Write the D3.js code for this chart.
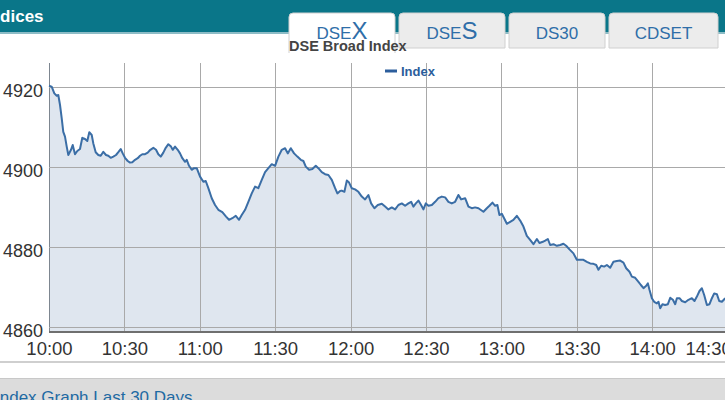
<!DOCTYPE html>
<html><head><meta charset="utf-8">
<script src="https://cdn.jsdelivr.net/npm/d3@7/dist/d3.min.js"></script>
<style>
html,body{margin:0;padding:0;background:#fff;overflow:hidden}
svg{display:block;font-family:"Liberation Sans",Arial,sans-serif}
</style></head>
<body><svg id="c" width="725" height="400"></svg>
<script>
const times = ["10:00:00","10:01:04","10:02:07","10:03:04","10:03:42","10:04:23","10:05:03","10:05:41","10:06:22","10:07:03",
"10:07:41","10:08:45","10:09:26","10:10:21","10:11:16","10:12:20","10:13:15","10:14:20","10:15:14","10:16:02",
"10:17:00","10:17:38","10:18:35","10:19:37","10:20:35","10:21:37","10:22:41","10:23:36","10:24:33","10:25:35",
"10:26:40","10:27:35","10:28:32","10:29:20","10:30:15","10:31:19","10:32:14","10:33:09","10:34:14","10:35:18",
"10:36:13","10:37:08","10:38:13","10:39:17","10:40:19","10:41:31","10:42:35","10:43:30","10:44:28","10:45:29",
"10:46:27","10:47:29","10:48:33","10:49:14","10:50:09","10:51:13","10:52:08","10:53:03","10:54:08","10:54:48",
"10:55:43","10:56:47","10:57:43","10:58:47","11:00:06","11:01:25","11:02:22","11:03:24","11:04:45","11:06:04",
"11:07:23","11:08:58","11:10:27","11:11:38","11:12:57","11:14:19","11:15:37","11:16:41","11:18:01","11:19:19",
"11:20:40","11:21:59","11:23:18","11:24:39","11:25:58","11:27:17","11:28:38","11:29:57","11:31:16","11:32:37",
"11:33:56","11:35:00","11:36:12","11:37:31","11:38:49","11:40:11","11:41:13","11:42:10","11:43:29","11:44:47",
"11:46:09","11:47:11","11:48:32","11:49:51","11:51:10","11:52:31","11:53:50","11:54:44","11:55:49","11:56:29",
"11:57:32","11:58:29","11:59:24","12:00:28","12:01:47","12:03:06","12:04:27","12:05:46","12:07:05","12:08:10",
"12:09:28","12:10:49","12:12:25","12:13:44","12:15:02","12:16:23","12:17:43","12:19:01","12:20:22","12:21:41",
"12:23:00","12:24:05","12:24:59","12:25:57","12:26:59","12:28:03","12:28:58","12:29:56","12:30:58","12:32:19",
"12:33:38","12:34:56","12:36:17","12:37:37","12:38:55","12:40:16","12:41:35","12:42:54","12:43:59","12:45:34",
"12:46:53","12:48:14","12:49:33","12:50:52","12:52:51","12:54:12","12:55:14","12:56:26","12:57:31","12:58:25",
"12:59:13","13:00:10","13:01:05","13:02:10","13:03:29","13:04:47","13:06:08","13:07:28","13:08:46","13:10:07",
"13:11:26","13:12:45","13:14:07","13:15:08","13:16:29","13:17:25","13:18:29","13:19:24","13:20:43","13:22:04",
"13:23:23","13:24:41","13:25:46","13:27:05","13:28:40","13:30:01","13:31:20","13:32:39","13:34:00","13:35:19",
"13:36:38","13:37:43","13:38:37","13:39:42","13:40:53","13:41:58","13:43:17","13:44:35","13:45:56","13:47:16",
"13:48:34","13:49:39","13:50:58","13:51:55","13:53:14","13:54:32","13:55:30","13:56:32","13:57:37","13:58:17",
"13:58:55","13:59:52","14:00:47","14:01:52","14:02:30","14:03:11","14:04:05","14:05:10","14:06:14","14:07:10",
"14:08:14","14:09:09","14:09:49","14:10:52","14:11:49","14:13:08","14:14:26","14:15:47","14:16:50","14:17:47",
"14:18:49","14:19:46","14:20:41","14:21:46","14:22:48","14:23:45","14:24:40","14:25:44","14:26:40","14:27:44",
"14:29:03"];
const values = [4920.3,4920.1,4918.4,4917.8,4918.0,4915.5,4912.2,4908.8,4907.6,4905.1,
4903.0,4904.3,4905.5,4903.2,4904.0,4904.5,4907.3,4907.0,4906.5,4908.7,
4908.0,4905.9,4903.7,4903.0,4902.8,4903.8,4903.0,4902.8,4902.3,4902.6,
4903.0,4903.7,4904.5,4903.4,4902.3,4901.5,4901.1,4901.2,4901.8,4902.2,
4902.8,4903.2,4903.2,4903.6,4904.3,4904.8,4904.3,4903.2,4902.6,4903.6,
4904.8,4905.7,4905.1,4904.3,4905.1,4904.3,4903.4,4902.2,4901.3,4901.8,
4900.3,4899.3,4899.7,4899.7,4897.6,4896.3,4896.5,4894.7,4892.2,4890.5,
4889.3,4888.7,4887.6,4886.8,4887.2,4887.8,4886.8,4888.0,4889.3,4891.3,
4893.4,4895.1,4894.7,4896.8,4898.7,4899.7,4900.7,4900.3,4902.6,4904.3,
4904.7,4903.4,4904.7,4903.4,4902.6,4901.8,4901.5,4900.1,4899.3,4899.5,
4900.3,4899.7,4898.7,4898.2,4898.0,4896.8,4894.7,4893.4,4894.0,4894.1,
4893.8,4896.6,4896.1,4894.7,4894.4,4893.8,4892.6,4891.9,4893.0,4890.9,
4889.7,4890.5,4890.8,4890.1,4889.4,4889.9,4889.4,4890.5,4890.9,4890.3,
4890.9,4891.3,4890.1,4890.9,4891.6,4890.5,4889.4,4890.9,4890.3,4890.5,
4891.3,4892.2,4892.6,4892.4,4891.3,4890.9,4891.3,4893.0,4891.9,4892.2,
4890.1,4889.7,4889.9,4889.7,4888.8,4889.7,4890.3,4891.1,4890.3,4890.5,
4888.0,4888.3,4887.2,4885.8,4886.3,4886.8,4887.8,4886.6,4885.1,4882.8,
4881.8,4880.7,4882.0,4881.0,4881.3,4881.6,4882.0,4880.5,4880.7,4880.3,
4880.5,4880.8,4880.3,4879.4,4878.4,4876.8,4876.8,4876.8,4876.3,4875.9,
4875.8,4875.5,4874.3,4875.3,4875.1,4875.5,4874.8,4876.3,4876.5,4876.6,
4876.1,4874.7,4873.8,4872.6,4872.3,4871.3,4870.5,4869.7,4870.3,4870.9,
4869.3,4867.2,4866.3,4865.9,4866.3,4864.7,4865.7,4865.5,4865.7,4867.3,
4866.8,4865.7,4867.2,4867.2,4866.5,4866.2,4866.8,4867.2,4866.5,4867.6,
4869.0,4869.7,4868.0,4865.5,4865.7,4867.2,4868.4,4868.2,4866.5,4866.3,
4867.2];
const yTicks = [4860, 4880, 4900, 4920];
const xTickLabels = ["10:00","10:30","11:00","11:30","12:00","12:30","13:00","13:30","14:00","14:30"];
const tabs = [["DSE","X"],["DSE","S"],["DS30",""],["CDSET",""]];
const seriesName = "Index";
const chartTitle = "DSE Broad Index";
const headerText = "Indices";
const footerText = "Index Graph Last 30 Days";

const svg = d3.select("#c");
const W = 725;
const parse = d3.timeParse("%H:%M:%S");
const parseHM = d3.timeParse("%H:%M");
const data = times.map((t,i)=>({t:parse(t), v:values[i]}));

// header bar
svg.append("rect").attr("x",0).attr("y",0).attr("width",W).attr("height",32).attr("fill","#0a7689");
svg.append("rect").attr("x",0).attr("y",32).attr("width",W).attr("height",2).attr("fill","#8dbcc6");
svg.append("text").attr("x",-15).attr("y",22).attr("fill","#fff").attr("font-size",17).attr("font-weight","bold").text(headerText);

// tabs
const tabX = [289,399,509,609], tabW = [106,106,96,109];
tabs.forEach((tb,i)=>{
  const active = i===0;
  const x=tabX[i], w=tabW[i], y=13, h= active?40:35, r=4;
  svg.append("path").attr("d",`M${x},${y+h} L${x},${y+r} Q${x},${y} ${x+r},${y} L${x+w-r},${y} Q${x+w},${y} ${x+w},${y+r} L${x+w},${y+h}`+(active?"":" Z"))
    .attr("fill", active?"#fff":"#ececec").attr("stroke","#d0d0d0").attr("stroke-width",1);
  const t = svg.append("text").attr("x",x+w/2).attr("y",39).attr("text-anchor","middle").attr("fill","#2f6ea8");
  t.append("tspan").attr("font-size",17).text(tb[0]);
  if(tb[1]) t.append("tspan").attr("font-size",24).text(tb[1]);
});
svg.append("text").attr("x",289).attr("y",51).attr("fill","#444").attr("font-size",14.5).attr("font-weight","bold").text(chartTitle);

// scales
const x = d3.scaleTime().domain([parseHM("10:00"), parseHM("14:30")]).range([49, 727.6]);
const y = d3.scaleLinear().domain([4858.75, 4926]).range([332, 63]);

// area
const area = d3.area().x(d=>x(d.t)).y0(y(4858.75)).y1(d=>y(d.v));
svg.append("path").datum(data).attr("d",area).attr("fill","#dfe6ef");

// grid
const xTicks = xTickLabels.map(s=>parseHM(s));
svg.append("g").selectAll("line").data(xTicks).join("line")
  .attr("x1",d=>Math.round(x(d))+0.5).attr("x2",d=>Math.round(x(d))+0.5).attr("y1",63).attr("y2",332)
  .attr("stroke",(d,i)=>i===0?"#7d8690":"#a9a9a9").attr("stroke-width",1);
svg.append("g").selectAll("line").data(yTicks).join("line")
  .attr("x1",49).attr("x2",W).attr("y1",d=>Math.round(y(d))+0.5).attr("y2",d=>Math.round(y(d))+0.5)
  .attr("stroke","#a9a9a9").attr("stroke-width",1);

// line
const line = d3.line().x(d=>x(d.t)).y(d=>y(d.v));
svg.append("path").datum(data).attr("d",line).attr("fill","none").attr("stroke","#3b6ea6").attr("stroke-width",2).attr("stroke-linejoin","round");

// x axis
const xAxis = svg.append("g").attr("transform","translate(0,332)")
  .call(d3.axisBottom(x).tickValues(xTicks).tickFormat(d3.timeFormat("%H:%M")).tickSize(0).tickPadding(10));
xAxis.select(".domain").attr("stroke","#6f6f6f").attr("stroke-width",2).attr("d","M49,0H725");
xAxis.selectAll("text").attr("font-size",18.5).attr("fill","#333").attr("font-family","'Liberation Sans',Arial,sans-serif");
xAxis.selectAll(".tick").filter((d,i)=>i===xTicks.length-1).select("text").attr("text-anchor","start").attr("dx", 685 - x(xTicks[xTicks.length-1]));
// y axis
const yAxis = svg.append("g").attr("transform","translate(49,0)")
  .call(d3.axisLeft(y).tickValues(yTicks).tickFormat(d3.format("d")).tickSize(0).tickPadding(6));
yAxis.select(".domain").remove();
yAxis.selectAll("text").attr("font-size",18).attr("fill","#333").attr("dy","0.55em").attr("font-family","'Liberation Sans',Arial,sans-serif");

// legend
svg.append("line").attr("x1",385).attr("x2",397).attr("y1",71).attr("y2",71).attr("stroke","#2c5e9c").attr("stroke-width",3);
svg.append("text").attr("x",401).attr("y",76).attr("fill","#2c5e9c").attr("font-size",13).attr("font-weight","bold").text(seriesName);

// bottom
svg.append("rect").attr("x",0).attr("y",361).attr("width",W).attr("height",2).attr("fill","#cfcfcf");
svg.append("rect").attr("x",0).attr("y",378).attr("width",W).attr("height",22).attr("fill","#dcdcdc");
svg.append("rect").attr("x",0).attr("y",378).attr("width",W).attr("height",1).attr("fill","#c8c8c8");
svg.append("text").attr("x",-5).attr("y",403).attr("fill","#1f6aa3").attr("font-size",17).text(footerText);
</script></body></html>
